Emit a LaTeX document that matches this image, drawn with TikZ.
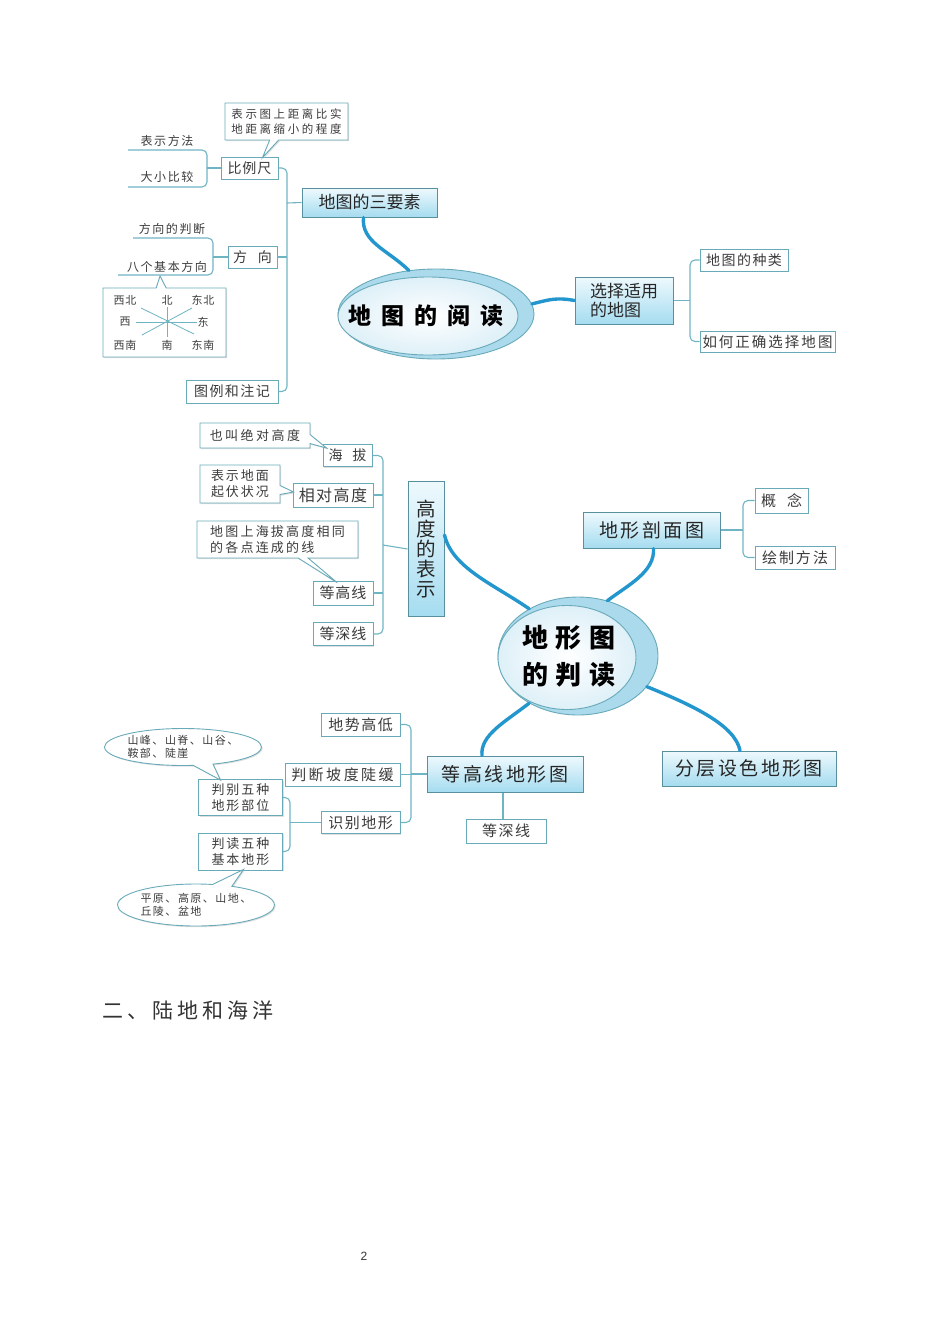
\documentclass[tikz,border=0pt]{standalone}
\usepackage{fontspec}
\setmainfont{Noto Sans CJK SC}
\newfontfamily\latinsans{Liberation Sans}
\usetikzlibrary{shapes.callouts,shapes.geometric,calc,shadows}
\definecolor{mainblue}{RGB}{35,150,205}
\definecolor{boxc}{RGB}{105,170,185}
\definecolor{linec}{RGB}{110,180,195}
\definecolor{boxtop}{RGB}{238,249,253}
\definecolor{boxbot}{RGB}{165,220,240}
\definecolor{cres}{RGB}{170,218,236}
\definecolor{ellout}{RGB}{222,240,248}
\definecolor{txt}{RGB}{60,60,60}
\newcommand\fsz[2]{\fontsize{#1}{#2}\selectfont}
\ExplSyntaxOn
\NewDocumentCommand\spc{mm}{\tl_map_inline:nn{#2}{##1\hspace{#1}}\unskip}
\ExplSyntaxOff
\begin{document}
\begin{tikzpicture}[x=1pt,y=-1pt,
  sbox/.style={draw=boxc, fill=white, line width=0.9pt, inner sep=0pt, text=txt,
    drop shadow={shadow xshift=1.2pt,shadow yshift=-1.2pt,fill=black!25}},
  mbox/.style={draw=boxc!85!black, line width=1pt, top color=boxtop, bottom color=boxbot,
    inner sep=0pt, text=black!85},
  conn/.style={draw=linec, line width=1.1pt, rounded corners=5pt},
  cline/.style={draw=linec, line width=0.8pt},
  thickc/.style={draw=mainblue, line width=3.4pt, line cap=round},
  plain/.style={text=txt, inner sep=0pt},
  outerell/.style={ellipse, fill=cres, draw=boxc, line width=0.9pt, inner sep=0pt},
  innerell/.style={ellipse, inner color=white, outer color=ellout, draw=boxc, line width=0.9pt, inner sep=0pt}
]
\useasboundingbox (0,0) rectangle (950,1344);

% ---------- top: map reading ----------
\node[sbox, minimum width=57, minimum height=22, font=\fsz{14}{16}] (bl) at (249.5,168) {\spc{1pt}{比例尺}};
\node[sbox, rectangle callout, callout absolute pointer={($(bl.north)+(13,1)$)}, callout pointer width=9pt,
  minimum width=123, minimum height=37, align=center, font=\fsz{11.5}{15}] (sd) at (286.5,121.5)
  {\spc{2.6pt}{表示图上距离比实}\\\spc{2.6pt}{地距离缩小的程度}};

\node[plain, font=\fsz{12}{14}] (bsff) at (167,141) {\spc{1.6pt}{表示方法}};
\node[plain, font=\fsz{12}{14}] (dxbj) at (167,177) {\spc{1.6pt}{大小比较}};
\coordinate (b1a) at (128,150);
\coordinate (b1) at (207,168);
\coordinate (b1b) at (128,187);
\draw[conn] (b1a) -| (b1) |- (b1b);
\draw[conn] (b1) -- (bl.west);

\node[sbox, minimum width=49, minimum height=22, font=\fsz{14}{16}] (fx) at (252.5,257) {\spc{11pt}{方向}};
\node[plain, font=\fsz{12}{14}] (fxpd) at (172,229) {\spc{1.6pt}{方向的判断}};
\node[plain, font=\fsz{12}{14}] (bgfx) at (167,267) {\spc{1.6pt}{八个基本方向}};
\coordinate (b2a) at (133,238);
\coordinate (b2) at (213,257);
\coordinate (b2b) at (118,275);
\draw[conn] (b2a) -| (b2) |- (b2b);
\draw[conn] (b2) -- (fx.west);

\coordinate (cpt) at (160,276);
\node[sbox, rectangle callout, callout absolute pointer={(cpt)}, callout pointer width=10pt,
  minimum width=123, minimum height=69] (cp) at (164.5,322.5) {};
\coordinate (cc) at (167,322);
\draw[cline] (136,322) -- (197,322);
\draw[cline] (167,307) -- (167,337);
\draw[cline] (141,308) -- (194,334);
\draw[cline] (142,335) -- (192,308);
\begin{scope}[every node/.style={plain, font=\fsz{11}{12}, fill=white, inner sep=0.5pt}]
\node (cnw) at (125,300) {\spc{1pt}{西北}};
\node (cn)  at (167,300) {北};
\node (cne) at (203,300) {\spc{1pt}{东北}};
\node (cw)  at (125,322) {西};
\node (ce)  at (203,322) {东};
\node (csw) at (125,345) {\spc{1pt}{西南}};
\node (cs)  at (167,345) {南};
\node (cse) at (203,345) {\spc{1pt}{东南}};
\end{scope}

\node[sbox, minimum width=92, minimum height=23, font=\fsz{14}{16}] (legend) at (232,391.5) {\spc{1.5pt}{图例和注记}};
\node[mbox, minimum width=135, minimum height=29, font=\fsz{17}{19}] (sanyao) at (369.5,202.5) {地图的三要素};

\coordinate (t1) at (287,203);
\draw[conn] (bl.east) -| (t1) |- (legend.east);
\draw[conn] (fx.east) -- (fx.east -| t1);
\draw[conn] (t1) -- (sanyao.west);

\node[outerell, minimum width=196, minimum height=90] (e1o) at (436,314) {};
\node[innerell, minimum width=180, minimum height=78] (e1) at (428,316) {};
\node[inner sep=0pt, text=black, font=\bfseries\fsz{23}{25}] (e1t) at (426,316) {\spc{10pt}{地图的阅读}};

\node[mbox, minimum width=98, minimum height=47, align=left, font=\fsz{17}{19}] (xz) at (624,300.5) {选择适用\\的地图};
\node[sbox, minimum width=88, minimum height=22, font=\fsz{14}{16}] (zl) at (744,260) {\spc{1.5pt}{地图的种类}};
\node[sbox, minimum width=135, minimum height=21, font=\fsz{14.5}{16}] (rh) at (767.5,341.5) {\spc{2pt}{如何正确选择地图}};
\coordinate (t2) at (690,300.5);
\draw[conn] (zl.west) -| (t2) |- (rh.west);
\draw[conn] (xz.east) -- (t2);

\draw[thickc] ($(sanyao.south)+(-6,0)$) .. controls (361,242) and (388,250) .. (e1o.122);
\draw[thickc] (e1o.6) .. controls (548,300) and (556,297) .. (xz.west);

% ---------- middle: height ----------
\node[sbox, minimum width=49, minimum height=22, font=\fsz{14}{16}] (hb) at (347.5,455.5) {\spc{10pt}{海拔}};
\node[sbox, rectangle callout, callout absolute pointer={($(hb.north west)+(4,4)$)}, callout pointer width=9pt,
  minimum width=110, minimum height=25, font=\fsz{13}{15}] (jd) at (255,435.5) {\spc{2.5pt}{也叫绝对高度}};
\node[sbox, minimum width=80, minimum height=24, font=\fsz{16}{18}] (xd) at (333,495) {\spc{1.5pt}{相对高度}};
\node[sbox, rectangle callout, callout absolute pointer={($(xd.west)+(1,-3)$)}, callout pointer width=9pt,
  minimum width=80, minimum height=38, align=left, font=\fsz{13}{16}] (qf) at (240,484)
  {\spc{2pt}{表示地面}\\\spc{2pt}{起伏状况}};
\node[sbox, minimum width=60, minimum height=24, font=\fsz{15}{17}] (dgx) at (343,593) {\spc{1pt}{等高线}};
\node[sbox, rectangle callout, callout absolute pointer={($(dgx.north)+(-6,2)$)}, callout pointer width=10pt,
  minimum width=161, minimum height=37, align=left, font=\fsz{13}{16}] (dg) at (277.5,539.5)
  {\spc{2.2pt}{地图上海拔高度相同}\\\spc{2.2pt}{的各点连成的线}};
\node[sbox, minimum width=60, minimum height=23, font=\fsz{15}{17}] (ds) at (343,634) {\spc{1pt}{等深线}};
\node[mbox, minimum width=36, minimum height=135, align=center, font=\fsz{19.5}{19.8}] (gd) at (426,549) {高\\度\\的\\表\\示};

\coordinate (t3) at (383,545);
\draw[conn] (hb.east) -| (t3) |- (ds.east);
\draw[conn] (xd.east) -- (xd.east -| t3);
\draw[conn] (dgx.east) -- (dgx.east -| t3);
\draw[conn] (t3) -- (gd.west);

\node[outerell, minimum width=160, minimum height=118] (e2o) at (578,656) {};
\node[innerell, minimum width=138, minimum height=104] (e2) at (567,657.5) {};
\node[inner sep=0pt, align=center, text=black, font=\bfseries\fsz{26}{37}] (e2t) at (569,656)
  {\spc{8pt}{地形图}\\\spc{8pt}{的判读}};

\node[mbox, minimum width=137, minimum height=36, font=\fsz{19}{21}] (dx) at (651.5,530) {\spc{2.5pt}{地形剖面图}};
\node[sbox, minimum width=53, minimum height=25, font=\fsz{15}{17}] (gn) at (781.5,500.5) {\spc{11pt}{概念}};
\node[sbox, minimum width=80, minimum height=23, font=\fsz{15}{17}] (hz) at (795,557.5) {\spc{2pt}{绘制方法}};
\coordinate (t4) at (743,530);
\draw[conn] (gn.west) -| (t4) |- (hz.west);
\draw[conn] (dx.east) -- (t4);

% ---------- bottom: contour maps ----------
\node[mbox, minimum width=156, minimum height=36, font=\fsz{19}{21}] (dgt) at (505,774) {\spc{2.5pt}{等高线地形图}};
\node[mbox, minimum width=174, minimum height=35, font=\fsz{19}{21}] (fc) at (749,768.5) {\spc{2.5pt}{分层设色地形图}};
\node[sbox, minimum width=80, minimum height=24, font=\fsz{15}{17}] (ds2) at (506,831) {\spc{1.5pt}{等深线}};
\coordinate (dsb) at ($(ds2.north)+(-3,0)$);
\draw[conn] (dsb) -- (dsb |- dgt.south);

\draw[thickc] ($(dx.south)+(2,0)$) .. controls (655,572) and (628,585) .. (e2o.62);
\draw[thickc] ($(gd.east)+(0,-14)$) .. controls (452,568) and (495,585) .. (e2o.136);
\draw[thickc] (e2o.224) .. controls (505,722) and (480,735) .. ($(dgt.north)+(-23,0)$);
\draw[thickc] (e2o.-24) .. controls (692,705) and (735,725) .. ($(fc.north)+(-9,0)$);

\node[sbox, minimum width=79, minimum height=23, font=\fsz{15}{17}] (dsgd) at (360.5,724.5) {\spc{1.5pt}{地势高低}};
\node[sbox, minimum width=115, minimum height=23, font=\fsz{15}{17}] (pd) at (342.5,774.5) {\spc{2.5pt}{判断坡度陡缓}};
\node[sbox, minimum width=79, minimum height=22, font=\fsz{15}{17}] (sb) at (360.5,822.5) {\spc{1.5pt}{识别地形}};
\coordinate (t5) at (411,774);
\draw[conn] (dsgd.east) -| (t5) |- (sb.east);
\draw[conn] (pd.east) -- (pd.east -| t5);
\draw[conn] (t5) -- (dgt.west);

\node[sbox, minimum width=84, minimum height=36, align=center, font=\fsz{13}{16}] (pb) at (240.5,797.5)
  {\spc{2pt}{判别五种}\\\spc{2pt}{地形部位}};
\node[sbox, minimum width=84, minimum height=37, align=center, font=\fsz{13}{16}] (pdw) at (240.5,851.5)
  {\spc{2pt}{判读五种}\\\spc{2pt}{基本地形}};
\coordinate (t6) at (290,822.5);
\draw[conn] (pb.east) -| (t6) |- (pdw.east);
\draw[conn] (t6) -- (sb.west);

\node[sbox, ellipse callout, callout absolute pointer={($(pb.north)+(-20,1)$)}, callout pointer width=10pt,
  minimum width=157, minimum height=37, align=left, font=\fsz{11}{13}] (cl1) at (183,747)
  {\spc{1.5pt}{山峰、山脊、山谷、}\\\spc{1.5pt}{鞍部、陡崖}};
\node[sbox, ellipse callout, callout absolute pointer={($(pdw.south)+(3,-1)$)}, callout pointer width=10pt,
  minimum width=152, minimum height=42, align=left, font=\fsz{11}{13}] (cl2) at (196,905)
  {\spc{1.5pt}{平原、高原、山地、}\\\spc{1.5pt}{丘陵、盆地}};

% ---------- heading and page number ----------
\node[anchor=west, inner sep=0pt, text=black!80, font=\fsz{21}{23}] (h2) at (102,1010) {\spc{4pt}{二、陆地和海洋}};
\node[inner sep=0pt, text=black!80, font=\latinsans\fsz{12}{14}] (pg) at (364,1256) {2};
\end{tikzpicture}
\end{document}
